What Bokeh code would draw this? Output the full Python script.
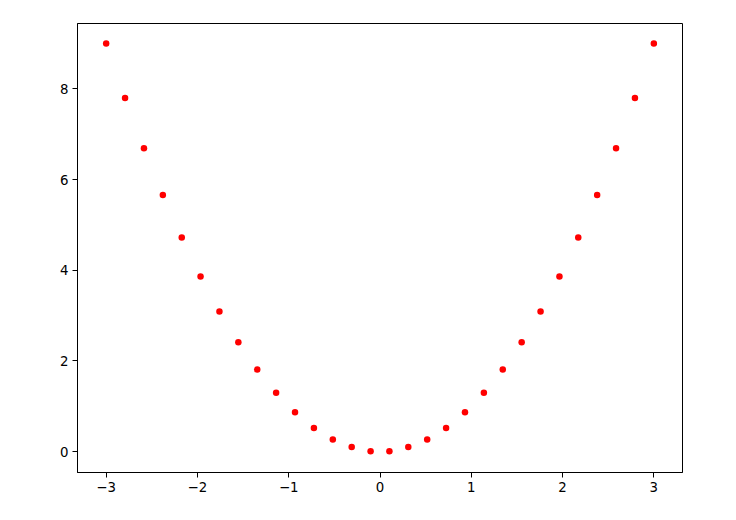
from bokeh.plotting import figure
from bokeh.embed import file_html
from bokeh.resources import INLINE
from bokeh.models import Range1d, FixedTicker

x_vals = [-3.0, -2.793, -2.586, -2.379, -2.172, -1.966, -1.759, -1.552, -1.345, -1.138,
          -0.931, -0.724, -0.517, -0.310, -0.103, 0.103, 0.310, 0.517, 0.724, 0.931,
          1.138, 1.345, 1.552, 1.759, 1.966, 2.172, 2.379, 2.586, 2.793, 3.0]
y_vals = [9.0, 7.80, 6.69, 5.66, 4.72, 3.86, 3.09, 2.41, 1.81, 1.30,
          0.87, 0.52, 0.27, 0.10, 0.01, 0.01, 0.10, 0.27, 0.52, 0.87,
          1.30, 1.81, 2.41, 3.09, 3.86, 4.72, 5.66, 6.69, 7.80, 9.0]
x_ticks = [-3, -2, -1, 0, 1, 2, 3]
y_ticks = [0, 2, 4, 6, 8]

p = figure(width=720, height=504, output_backend="svg", toolbar_location=None,
           x_range=Range1d(-3.314, 3.314), y_range=Range1d(-0.46, 9.44),
           min_border_left=77, min_border_top=23, min_border_right=38, min_border_bottom=32)
p.frame_width = 605
p.frame_height = 449

p.scatter(x_vals, y_vals, size=6.5, color="red", line_color=None)

p.grid.visible = False
p.outline_line_color = "black"
p.outline_line_width = 1
p.outline_line_alpha = 1

for ax in (p.xaxis[0], p.yaxis[0]):
    ax.axis_line_color = "black"
    ax.major_tick_line_color = "black"
    ax.major_tick_out = 5
    ax.major_tick_in = 0
    ax.minor_tick_line_color = None
    ax.major_label_text_font = "DejaVu Sans"
    ax.major_label_text_font_size = "10pt"
    ax.major_label_text_color = "black"
    ax.major_label_standoff = 4

p.xaxis[0].ticker = FixedTicker(ticks=x_ticks)
p.yaxis[0].ticker = FixedTicker(ticks=y_ticks)
p.xaxis[0].major_label_overrides = {t: str(t).replace("-", "\u2212") for t in x_ticks}
p.yaxis[0].major_label_overrides = {t: str(t) for t in y_ticks}

open("out.html", "w").write(file_html(p, INLINE))
